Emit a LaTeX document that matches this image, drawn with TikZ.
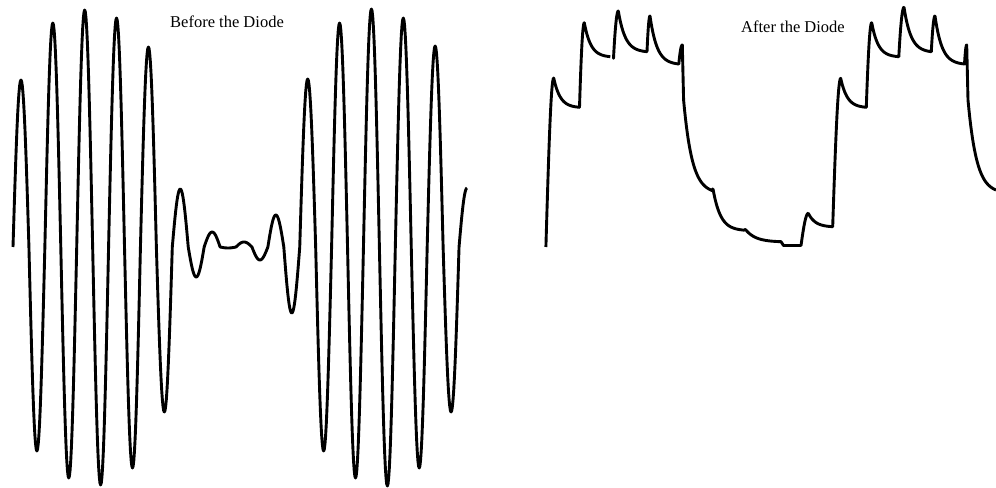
\documentclass[tikz,border=0pt]{standalone}
\usepackage{fontspec}
\setmainfont{Liberation Serif}
% rising flank of a carrier peak: start x, start deflection, peak x, peak deflection
\newcommand{\sigrise}[4]{%
 -- plot[domain=0:1, samples=16, variable=\u] ({#1+\u*(#3-#1)}, {247-(#4)*cos(acos((#2)/(#4))*(1-\u))})}
% discharge between peaks: start x, start deflection, end x, end deflection, time constant
\newcommand{\sigdecay}[5]{%
 -- plot[domain=#1:#3, samples=32, variable=\t] ({\t}, {247-((#4)+((#2)-(#4))*(exp(-(\t-#1)/#5)-exp(-(#3-#1)/#5))/(1-exp(-(#3-#1)/#5)))})}
\begin{document}
\begin{tikzpicture}[x=1bp, y=-1bp,
  wave/.style={line width=2.9bp, line join=round},
  lbl/.style={font=\fontsize{16.5bp}{20bp}\selectfont, anchor=base, inner sep=0pt}]
\useasboundingbox (0,0) rectangle (996,488);

\node[lbl] (before) at (227,28) {Before the Diode};
\node[lbl] (after) at (793,33) {After the Diode};

% AM signal before the diode
\draw[wave] (13,247)
  \foreach \a [count=\k] in {167,-204,224,-231,237,-238,229,-221,200,-165,58,-30,15,-1,5,-13,32,-66,168,-204,224,-231,238,-239,229,-221,201,-165}
  { -- plot[domain=0:180, samples=25, variable=\t] ({13+(\k-1)*15.93+\t*15.93/180}, {247-(\a)*sin(\t)}) }
  -- plot[domain=0:90, samples=13, variable=\t] ({459.04+\t*15.93/180}, {247-59*sin(\t)});

% detected signal after the diode
\draw[wave] (545.9,247)
  \sigrise{545.9}{0}{553.7}{169}
  \sigdecay{553.7}{169}{579.5}{139.7}{6.5}
  \sigrise{579.5}{139.7}{584.3}{224.3}
  \sigdecay{584.3}{224.3}{610.3}{190.3}{6.5};
\draw[wave] (613.5,58.3)
  \sigrise{613.5}{188.7}{618.3}{236}
  \sigdecay{618.3}{236}{647}{195.3}{7}
  \sigrise{647}{195.3}{650}{231}
  \sigdecay{650}{231}{678.8}{183}{7}
  \sigrise{678.8}{183}{682.3}{202}
  -- (683.6,100)
  \sigdecay{683.6}{147}{712}{56.5}{8.5}
  \sigrise{712}{56.5}{713}{58}
  \sigdecay{713}{58}{744.5}{16.8}{7.5}
  \sigrise{744.5}{16.8}{745.5}{17.5}
  \sigdecay{745.5}{17.5}{781}{5.3}{10}
  -- (783.5,245.5) -- (801,245.5)
  \sigrise{801}{1.5}{808.3}{33.7}
  \sigdecay{808.3}{33.7}{832.7}{20.3}{7}
  \sigrise{832.7}{20.3}{840.7}{168.7}
  \sigdecay{840.7}{168.7}{866.3}{139.7}{6.5}
  \sigrise{866.3}{139.7}{871.7}{224.3}
  \sigdecay{871.7}{224.3}{898.8}{190.3}{6.5}
  \sigrise{898.8}{190.3}{904}{239.7}
  \sigdecay{904}{239.7}{931.3}{195.3}{7}
  \sigrise{931.3}{195.3}{935}{231}
  \sigdecay{935}{231}{964.5}{183}{7}
  \sigrise{964.5}{183}{966.7}{202}
  -- (968,100)
  \sigdecay{968}{147}{996}{57}{8.5};
\end{tikzpicture}
\end{document}
